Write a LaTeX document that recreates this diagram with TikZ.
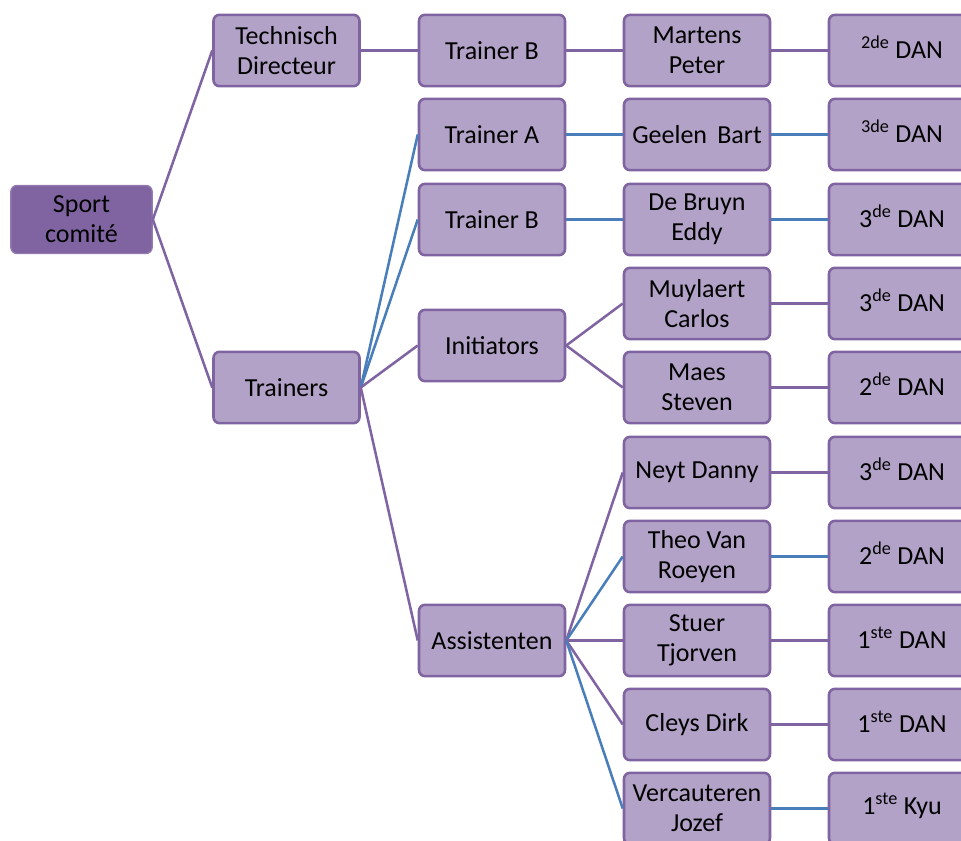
\documentclass[tikz,border=0pt]{standalone}
\usepackage{fontspec}
\setmainfont{Carlito}
\definecolor{boxfill}{HTML}{B3A2C7}
\definecolor{boxline}{HTML}{8064A2}
\definecolor{rootfill}{HTML}{8064A2}
\definecolor{lnpurple}{HTML}{8064A2}
\definecolor{lnblue}{HTML}{4A7EBB}
\newcommand{\sups}[1]{\textsuperscript{\smash{#1}}}
\begin{document}
\begin{tikzpicture}[x=0.75pt,y=-0.75pt,
  box/.style={draw=boxline,line width=1.9pt,fill=boxfill,rounded corners=4.5pt,
    minimum width=109.5pt,minimum height=53.5pt,align=center,inner sep=1pt,
    font=\fontsize{19.5}{22.5}\selectfont,text=black},
  rootbox/.style={box,fill=rootfill,draw=rootfill!85,line width=1pt,minimum width=106pt,minimum height=51pt},
  pl/.style={draw=lnpurple,line width=1.9pt},
  bl/.style={draw=lnblue,line width=1.9pt}]
\useasboundingbox (0,0) rectangle (961,841);
\clip (0,0) rectangle (961,841);
% nodes
\node[rootbox] (root) at (81.5,219.5) {Sport\\comité};
\node[box] (td) at (286.5,50.5) {Technisch\\Directeur};
\node[box] (tr) at (286.5,387.5) {Trainers};
\node[box] (tb1) at (492,50.5) {Trainer B};
\node[box] (ta) at (492,134.5) {Trainer A};
\node[box] (tb2) at (492,219.5) {Trainer B};
\node[box] (ini) at (492,345.5) {Initiators};
\node[box] (ass) at (492,640.5) {Assistenten};
\node[box] (p1) at (697,50.5) {Martens\\Peter};
\node[box] (p2) at (697,134.5) {Geelen\ \,Bart};
\node[box] (p3) at (697,219.5) {De Bruyn\\Eddy};
\node[box] (p4) at (697,303.5) {Muylaert\\Carlos};
\node[box] (p5) at (697,387.5) {Maes\\Steven};
\node[box] (p6) at (697,472.5) {Neyt Danny};
\node[box] (p7) at (697,556.5) {Theo Van\\Roeyen};
\node[box] (p8) at (697,640.5) {Stuer\\Tjorven};
\node[box] (p9) at (697,724.5) {Cleys Dirk};
\node[box] (p10) at (697,808.5) {Vercauteren\\Jozef};
\node[box] (d1) at (902,50.5) {\sups{2de} DAN};
\node[box] (d2) at (902,134.5) {\sups{3de} DAN};
\node[box] (d3) at (902,219.5) {3\sups{de} DAN};
\node[box] (d4) at (902,303.5) {3\sups{de} DAN};
\node[box] (d5) at (902,387.5) {2\sups{de} DAN};
\node[box] (d6) at (902,472.5) {3\sups{de} DAN};
\node[box] (d7) at (902,556.5) {2\sups{de} DAN};
\node[box] (d8) at (902,640.5) {1\sups{ste} DAN};
\node[box] (d9) at (902,724.5) {1\sups{ste} DAN};
\node[box] (d10) at (902,808.5) {1\sups{ste} Kyu};
% connectors
\draw[pl] (root.east) -- (td.west);
\draw[pl] (root.east) -- (tr.west);
\draw[pl] (td.east) -- (tb1.west);
\draw[bl] (tr.east) -- (ta.west);
\draw[bl] (tr.east) -- (tb2.west);
\draw[pl] (tr.east) -- (ini.west);
\draw[pl] (tr.east) -- (ass.west);
\draw[pl] (tb1.east) -- (p1.west);
\draw[bl] (ta.east) -- (p2.west);
\draw[bl] (tb2.east) -- (p3.west);
\draw[pl] (ini.east) -- (p4.west);
\draw[pl] (ini.east) -- (p5.west);
\draw[pl] (ass.east) -- (p6.west);
\draw[bl] (ass.east) -- (p7.west);
\draw[pl] (ass.east) -- (p8.west);
\draw[pl] (ass.east) -- (p9.west);
\draw[bl] (ass.east) -- (p10.west);
\draw[pl] (p1.east) -- (d1.west);
\draw[bl] (p2.east) -- (d2.west);
\draw[bl] (p3.east) -- (d3.west);
\draw[pl] (p4.east) -- (d4.west);
\draw[pl] (p5.east) -- (d5.west);
\draw[pl] (p6.east) -- (d6.west);
\draw[bl] (p7.east) -- (d7.west);
\draw[pl] (p8.east) -- (d8.west);
\draw[pl] (p9.east) -- (d9.west);
\draw[bl] (p10.east) -- (d10.west);
\end{tikzpicture}
\end{document}
